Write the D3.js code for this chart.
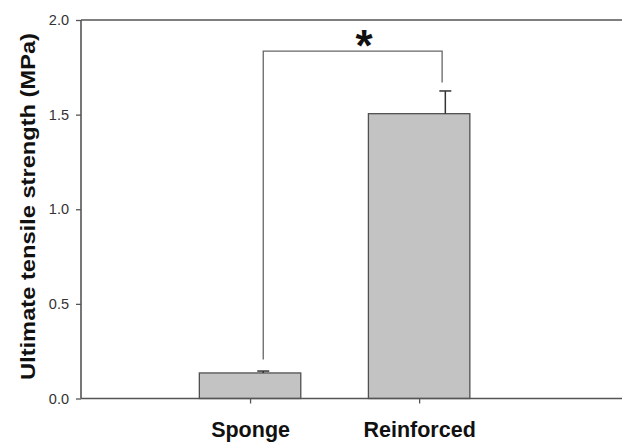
<!DOCTYPE html>
<html><head><meta charset="utf-8">
<script src="https://cdn.jsdelivr.net/npm/d3@7/dist/d3.min.js"></script>
<style>body{margin:0;background:#fff}svg{display:block}</style>
</head><body>
<svg id="c" width="624" height="442"></svg>
<script>
const categories = ["Sponge", "Reinforced"];
const catPos = [1, 2];
const values = [0.135, 1.505];
const errors = [0.01, 0.12];
const errPos = [1.078, 2.155];
const yTicks = [0.0, 0.5, 1.0, 1.5, 2.0];
const bracketX = [1.078, 2.136];
const bracketTopY = 1.836;
const bracketEndY = [0.206, 1.67];
const sigLabel = "*";
const sigPos = 1.675;
const yTitle = "Ultimate tensile strength (MPa)";

const svg = d3.select("#c");
const x = d3.scaleLinear().domain([0, 3.2]).range([81, 622]);
const y = d3.scaleLinear().domain([0, 2]).range([398.5, 20]);
const axCol = "#555";
const barW = x(0.6) - x(0);
const font = "Liberation Sans, Arial, sans-serif";

// bars
svg.selectAll("rect.bar").data(values).enter().append("rect")
  .attr("x", (d,i) => x(catPos[i]) - barW/2)
  .attr("y", d => y(d))
  .attr("width", barW)
  .attr("height", d => y(0) - y(d))
  .attr("fill", "#c3c3c3").attr("stroke", "#505050").attr("stroke-width", 1.3);

// error bars (upper only)
const eg = svg.append("g").attr("stroke", "#333").attr("stroke-width", 1.5);
values.forEach((v,i) => {
  eg.append("line").attr("x1", x(errPos[i])).attr("x2", x(errPos[i]))
    .attr("y1", y(v)).attr("y2", y(v+errors[i]));
  eg.append("line").attr("x1", x(errPos[i])-6).attr("x2", x(errPos[i])+6)
    .attr("y1", y(v+errors[i])).attr("y2", y(v+errors[i]));
});

// significance bracket
svg.append("path")
  .attr("d", d3.line()([[x(bracketX[0]), y(bracketEndY[0])],[x(bracketX[0]), y(bracketTopY)],[x(bracketX[1]), y(bracketTopY)],[x(bracketX[1]), y(bracketEndY[1])]]))
  .attr("fill","none").attr("stroke","#666").attr("stroke-width",1.3);
svg.append("text").attr("x", x(sigPos)).attr("y", y(bracketTopY)+10)
  .attr("text-anchor","middle").attr("font-family",font)
  .attr("font-weight","bold").attr("font-size",44).attr("fill","#111").text(sigLabel);

// y axis
const yAxis = d3.axisLeft(y).tickValues(yTicks).tickFormat(d3.format(".1f")).tickSize(5).tickPadding(7);
const gy = svg.append("g").attr("transform", `translate(${x(0)},0)`).call(yAxis);
gy.select(".domain").remove();
gy.selectAll(".tick line").attr("stroke", axCol).attr("stroke-width", 1.3);
gy.selectAll(".tick text").attr("font-family",font).attr("font-size",14.5).attr("fill","#333");

// x axis
const xAxis = d3.axisBottom(x).tickValues(catPos).tickFormat((d,i) => categories[i]).tickSize(5).tickPadding(20);
const gx = svg.append("g").attr("transform", `translate(0,${y(0)})`).call(xAxis);
gx.select(".domain").remove();
gx.selectAll(".tick line").attr("stroke", axCol).attr("stroke-width", 1.3);
gx.selectAll(".tick text").attr("font-family",font).attr("font-weight","bold").attr("font-size",21.5).attr("fill","#111")
  .attr("dy", null).attr("y", 38.5);

// frame lines
const fr = svg.append("g").attr("stroke", axCol).attr("stroke-width", 1.6);
fr.append("line").attr("x1", x(0)).attr("x2", x(0)).attr("y1", y(0)).attr("y2", y(2));
fr.append("line").attr("x1", x(0)).attr("x2", x(3.2)).attr("y1", y(0)).attr("y2", y(0));
fr.append("line").attr("x1", x(0)).attr("x2", x(3.2)).attr("y1", y(2)).attr("y2", y(2));

// y title
svg.append("text").attr("transform", `translate(27,${(33+380)/2}) rotate(-90)`)
  .attr("text-anchor","middle").attr("dominant-baseline","central")
  .attr("font-family",font).attr("font-weight","bold")
  .attr("font-size",21).attr("textLength",347).attr("lengthAdjust","spacingAndGlyphs")
  .attr("fill","#111").text(yTitle);
</script>
</body></html>
